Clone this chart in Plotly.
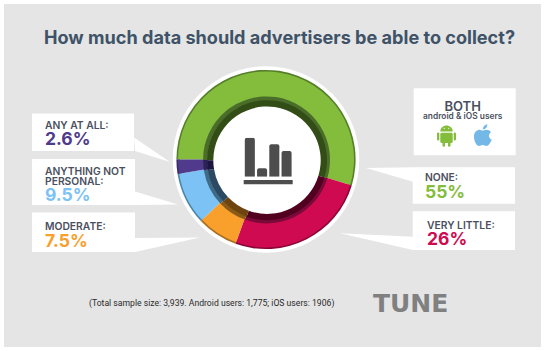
import plotly.graph_objects as go

W, H = 546, 351

# ---- data ----
categories = ["None", "Very little", "Moderate", "Anything not personal", "Any at all"]
shares = [55, 26, 7.5, 9.5, 2.6]
icon_positions = [0, 1, 2, 3]
icon_values = [39, 8.4, 32.4, 25.7]

main_colors = ["#84bd3c", "#cf0a50", "#f9a02c", "#7cc2f5", "#4f3a8c"]
edge_colors = ["#557f2a", "#8a0638", "#a87020", "#4e86a8", "#3a2a6a"]
mid_colors = ["#4a6d2a", "#7a0a3a", "#8a5a18", "#3f6a88", "#2c2258"]
dark_colors = ["#334d17", "#52001f", "#6e4510", "#2b4a62", "#1d1640"]


def fx(x):
    return x / W


def fy(y):
    return 1 - y / H


def P(x, y):
    return f"{fx(x):.5f},{fy(y):.5f}"


def rect(x0, y0, x1, y1, color):
    return dict(type="rect", xref="paper", yref="paper", x0=fx(x0), x1=fx(x1), y0=fy(y1), y1=fy(y0),
                fillcolor=color, line_width=0, layer="below")


def circle(cx, cy, r, color):
    return dict(type="circle", xref="paper", yref="paper", x0=fx(cx - r), x1=fx(cx + r), y0=fy(cy + r), y1=fy(cy - r),
                fillcolor=color, line_width=0, layer="below")


def poly(points, color):
    path = "M " + " L ".join(P(x, y) for x, y in points) + " Z"
    return dict(type="path", xref="paper", yref="paper", path=path, fillcolor=color, line_width=0, layer="below")


def rrect(x0, y0, x1, y1, r, color):
    path = (f"M {P(x0 + r, y0)} L {P(x1 - r, y0)} Q {P(x1, y0)} {P(x1, y0 + r)} L {P(x1, y1 - r)} "
            f"Q {P(x1, y1)} {P(x1 - r, y1)} L {P(x0 + r, y1)} Q {P(x0, y1)} {P(x0, y1 - r)} "
            f"L {P(x0, y0 + r)} Q {P(x0, y0)} {P(x0 + r, y0)} Z")
    return dict(type="path", xref="paper", yref="paper", path=path, fillcolor=color, line_width=0, layer="below")


def curve(ox, oy, start, segs, color):
    path = f"M {P(ox + start[0], oy + start[1])} "
    for s in segs:
        path += "C " + " ".join(P(ox + s[i], oy + s[i + 1]) for i in (0, 2, 4)) + " "
    path += "Z"
    return dict(type="path", xref="paper", yref="paper", path=path, fillcolor=color, line_width=0, layer="below")


WHITE = "#ffffff"
shapes = [
    rect(4, 4, 541, 347, "#e5e5e5"),
    circle(266, 159.5, 93.3, WHITE),
    # callouts
    rect(32, 113.5, 134, 151, WHITE), poly([(134, 137.5), (170, 162), (135, 151)], WHITE),
    rect(32, 159, 135, 205, WHITE), poly([(135, 191.5), (178, 204.5), (135, 205)], WHITE),
    rect(32, 212.5, 135, 252, WHITE), poly([(135, 238), (200, 237.5), (135, 252)], WHITE),
    rect(413.7, 88.3, 515.7, 155.3, WHITE),
    rect(412.7, 167.3, 515, 203.7, WHITE), poly([(366, 168), (413, 167.3), (413, 181.7)], WHITE),
    rect(412.7, 211.3, 515, 250, WHITE), poly([(340, 233.3), (413, 236.7), (413, 250)], WHITE),
    # icon base
    rect(243.7, 180, 292.7, 184.3, "#4d4d4d"),
]

# Android icon
GR = "#84bd3c"
shapes += [
    curve(440.3, 125.5, (0, 6), [(0, 2.5, 2.8, 0, 6.2, 0), (9.6, 0, 12.4, 2.5, 12.4, 6)], GR),
    rrect(440.3, 132.7, 452.7, 143, 1.5, GR),
    rrect(437, 132.5, 439.3, 140.5, 1.1, GR),
    rrect(453.7, 132.5, 456, 140.5, 1.1, GR),
    rrect(442.5, 140, 445, 146.7, 1.2, GR),
    rrect(448, 140, 450.5, 146.7, 1.2, GR),
    circle(444.2, 128.3, 0.6, WHITE),
    circle(448.8, 128.3, 0.6, WHITE),
]
# Apple icon
AP = "#74b8e8"
shapes += [
    curve(474, 124.3, (9, 6.5), [(11, 5.2, 15, 4.8, 17, 8), (14.5, 9.5, 14, 13.5, 17.7, 15.5),
                                 (16.5, 18.5, 14.5, 21.7, 12.5, 21.7), (11, 21.7, 10.5, 20.8, 8.8, 20.8),
                                 (7, 20.8, 6.5, 21.7, 5, 21.7), (2.5, 21.7, 0, 17, 0, 12.5),
                                 (0, 7.5, 3.2, 5.5, 5.5, 5.5), (7, 5.5, 8, 6.5, 9, 6.5)], AP),
    curve(474, 124.3, (8.8, 5.2), [(8.8, 2.5, 11, 0.3, 13.3, 0), (13.5, 2.8, 11.3, 5.2, 8.8, 5.2)], AP),
]


def ring(cx, cy, r_out, r_in, colors):
    return go.Pie(labels=categories, values=shares, sort=False, direction="clockwise", rotation=270,
                  domain=dict(x=[fx(cx - r_out), fx(cx + r_out)], y=[fy(cy + r_out), fy(cy - r_out)]),
                  hole=r_in / r_out, marker=dict(colors=colors, line=dict(width=0)),
                  textinfo="none", hoverinfo="skip", showlegend=False)


fig = go.Figure()
fig.add_trace(ring(266, 159.5, 89.6, 86, edge_colors))
fig.add_trace(ring(266, 159.5, 88, 62.5, main_colors))
fig.add_trace(ring(266.5, 159.9, 63.5, 59, mid_colors))
fig.add_trace(ring(267, 160.2, 60, 53.7, dark_colors))
fig.add_trace(go.Bar(x=icon_positions, y=icon_values, marker=dict(color="#4d4d4d", line_width=0), width=0.82,
                     hoverinfo="skip", showlegend=False))

LAB = "#4a5060"
FONT = "Inter"
LABEL_PX = 10.3
VALUE_PX = 17.5


def T(x, y, s, size, color, weight=600, family=FONT, anchor="left"):
    return dict(x=fx(x), y=fy(y), xref="paper", yref="paper", text=s, showarrow=False, xanchor=anchor,
                yanchor="middle", align=anchor, borderpad=0,
                font=dict(family=family, size=size, color=color, weight=weight))


def callout(x, y, lines, value, color, base):
    """One text block: label lines in small caps size, then the big coloured value."""
    rows = [f'<span style="font-size:{LABEL_PX}px">{t}</span>' for t in lines]
    rows.append(f'<span style="font-size:{VALUE_PX}px;color:{color}"><b>{value}</b></span>')
    return T(x, y, "<br>".join(rows), base, LAB)


annotations = [
    T(279, 36.5, "How much data should advertisers be able to collect?", 18.1, "#3f5368", 700, anchor="center"),
    callout(44, 134.3, ["ANY AT ALL:"], "2.6%", main_colors[4], 12.6),
    T(44, 176.5, f'<span style="font-size:{LABEL_PX}px">ANYTHING NOT</span><br>'
      f'<span style="font-size:{LABEL_PX}px">PERSONAL:</span>', 7.7, LAB),
    T(44, 194, f"<b>9.5%</b>", VALUE_PX, main_colors[3]),
    callout(44, 235, ["MODERATE:"], "7.5%", main_colors[2], 13),
    callout(424, 186.3, ["NONE:"], "55%", main_colors[0], 13),
    callout(426.3, 233.5, ["VERY LITTLE:"], "26%", main_colors[1], 12.6),
    T(463, 110, '<span style="font-size:13px">BOTH</span><br><span style="font-size:8.4px">android &amp; iOS users</span>',
      6.2, LAB, 600, anchor="center"),
    T(87.7, 303, "(Total sample size: 3,939. Android users: 1,775; iOS users: 1906)", 8.65, "#2a2a2a", 400, "Roboto"),
    T(410, 303.3, "TUNE", 25, "#808080", 700, "DejaVu Sans", anchor="center"),
]

fig.update_layout(
    width=W, height=H, margin=dict(l=0, r=0, t=0, b=0), paper_bgcolor=WHITE, plot_bgcolor="rgba(0,0,0,0)",
    shapes=shapes, annotations=annotations, barcornerradius=2,
    xaxis=dict(domain=[fx(243.7), fx(292.7)], range=[-0.5, 3.5], visible=False, fixedrange=True),
    yaxis=dict(domain=[fy(176.7), fy(137.7)], range=[0, 39], visible=False, fixedrange=True),
)
fig.write_html("out.html", config=dict(displayModeBar=False),
               post_script="document.body.style.margin='0';document.documentElement.style.overflow='hidden';")
